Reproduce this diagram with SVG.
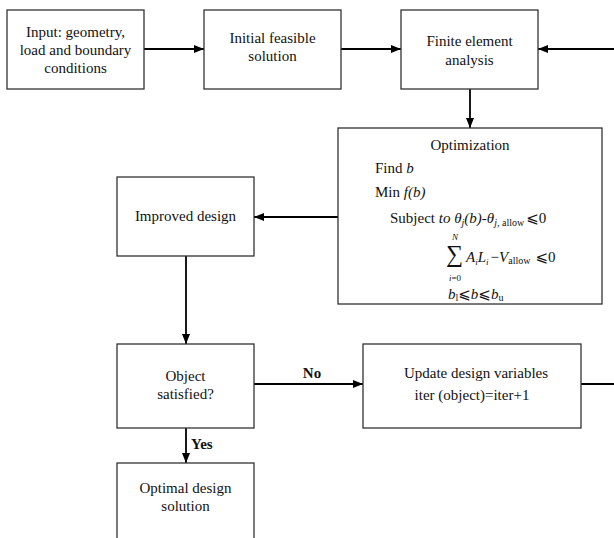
<svg xmlns="http://www.w3.org/2000/svg" width="614" height="538" viewBox="0 0 614 538">
<defs>
<marker id="arr" markerWidth="10" markerHeight="8" refX="10" refY="4" orient="auto" markerUnits="userSpaceOnUse">
<path d="M0,0 L10,4 L0,8 Z" fill="#000"/>
</marker>
<style>
.box{fill:#fff;stroke:#333;stroke-width:1.3}
.t{font-family:"Liberation Serif","Times New Roman",serif;font-size:15px;fill:#111}
.c{text-anchor:middle}
.b{font-weight:bold}
.i{font-style:italic}
.con{fill:none;stroke:#000;stroke-width:1.8}
.sym{font-family:"Liberation Serif","DejaVu Serif","DejaVu Sans",serif}
</style>
</defs>
<rect width="614" height="538" fill="#fff"/>

<g id="connectors">
<line class="con" x1="144" y1="49" x2="204" y2="49" marker-end="url(#arr)"/>
<line class="con" x1="341" y1="49" x2="401" y2="49" marker-end="url(#arr)"/>
<polyline class="con" points="581,384 625,384 625,49 538,49" marker-end="url(#arr)"/>
<line class="con" x1="470" y1="89" x2="470" y2="128" marker-end="url(#arr)"/>
<line class="con" x1="338" y1="217" x2="254" y2="217" marker-end="url(#arr)"/>
<line class="con" x1="186" y1="256" x2="186" y2="344" marker-end="url(#arr)"/>
<line class="con" x1="254" y1="384" x2="363" y2="384" marker-end="url(#arr)"/>
<line class="con" x1="186" y1="428" x2="186" y2="463" marker-end="url(#arr)"/>
<text class="t b c" x="312" y="378">No</text>
<text class="t b" x="191" y="449">Yes</text>
</g>

<g id="input">
<rect class="box" x="7" y="10" width="137" height="79"/>
<text class="t c" x="75.5" y="37">Input: geometry,</text>
<text class="t c" x="75.5" y="55">load and boundary</text>
<text class="t c" x="75.5" y="73">conditions</text>
</g>

<g id="initial">
<rect class="box" x="204" y="10" width="137" height="79"/>
<text class="t c" x="272.5" y="43">Initial feasible</text>
<text class="t c" x="272.5" y="61">solution</text>
</g>

<g id="fea">
<rect class="box" x="401" y="10" width="137" height="79"/>
<text class="t c" x="469.5" y="46">Finite element</text>
<text class="t c" x="469.5" y="65">analysis</text>
</g>

<g id="optimization">
<rect class="box" x="338" y="128" width="264" height="176"/>
<text class="t c" x="470" y="150">Optimization</text>
<text class="t" x="375" y="173">Find <tspan class="i">b</tspan></text>
<text class="t" x="375" y="197">Min <tspan class="i">f(b)</tspan></text>
<text class="t" x="390" y="223">Subject <tspan class="i">to θ</tspan><tspan class="i" font-size="10" dy="3">j</tspan><tspan class="i" dy="-3">(b)-θ</tspan><tspan class="i" font-size="10" dy="3">j,</tspan><tspan font-size="10"> allow</tspan><tspan class="sym" dy="-3" dx="2">⩽</tspan><tspan>0</tspan></text>
<text class="t" x="446" y="262" style="font-size:24px">∑</text>
<text class="t i c" x="455" y="240" style="font-size:9px">N</text>
<text class="t c" x="455" y="281" style="font-size:9px"><tspan class="i">i</tspan>=0</text>
<text class="t" x="466" y="262"><tspan class="i">A</tspan><tspan class="i" font-size="9" dy="3">i</tspan><tspan class="i" dy="-3">L</tspan><tspan class="i" font-size="9" dy="3">i</tspan><tspan dy="-3" dx="2">−</tspan><tspan class="i">V</tspan><tspan font-size="10" dy="2">allow</tspan><tspan class="sym" dy="-2" dx="5">⩽</tspan><tspan>0</tspan></text>
<text class="t" x="448" y="299"><tspan class="i">b</tspan><tspan font-size="10" dy="2">l</tspan><tspan class="sym" dy="-2">⩽</tspan><tspan class="i">b</tspan><tspan class="sym">⩽</tspan><tspan class="i">b</tspan><tspan font-size="10" dy="2">u</tspan></text>
</g>

<g id="improved">
<rect class="box" x="117" y="177" width="137" height="79"/>
<text class="t c" x="185.5" y="221">Improved design</text>
</g>

<g id="object">
<rect class="box" x="117" y="344" width="137" height="84"/>
<text class="t c" x="185.5" y="381">Object</text>
<text class="t c" x="185.5" y="399">satisfied?</text>
</g>

<g id="update">
<rect class="box" x="363" y="344" width="218" height="84"/>
<text class="t c" x="476" y="378">Update design variables</text>
<text class="t c" x="472" y="400">iter (object)=iter+1</text>
</g>

<g id="optimal">
<rect class="box" x="117" y="463" width="137" height="95"/>
<text class="t c" x="185.5" y="493">Optimal design</text>
<text class="t c" x="185.5" y="511">solution</text>
</g>
</svg>
